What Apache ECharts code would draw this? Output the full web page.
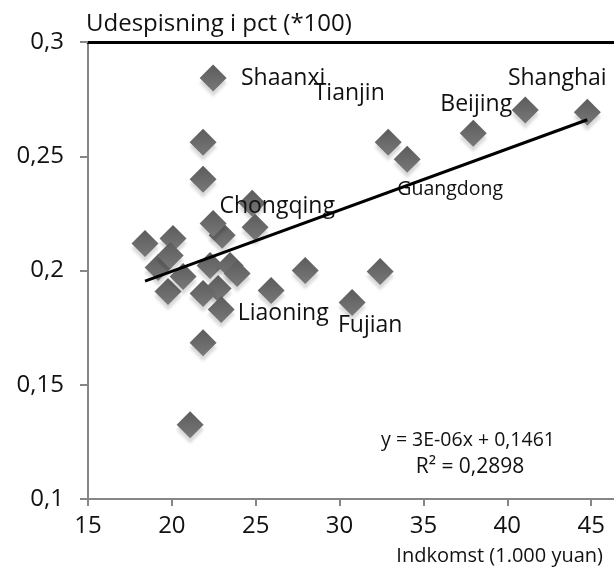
<!DOCTYPE html>
<html>
<head>
<meta charset="utf-8">
<script src="https://cdn.jsdelivr.net/npm/echarts@6/dist/echarts.min.js"></script>
<style>
  html, body { margin: 0; padding: 0; background: #fff; }
  #chart { width: 614px; height: 572px; }
</style>
</head>
<body>
<div id="chart"></div>
<script>
// Income per province (1.000 yuan) and share of food spent eating out
const income = [22.46, 21.86, 21.86, 24.79, 24.96, 23.00, 18.40, 20.07, 19.18, 19.77,
                22.28, 23.47, 22.76, 21.86, 22.94, 20.67, 23.89, 27.95, 25.92, 32.42,
                30.75, 21.86, 21.09, 32.90, 34.03, 37.97, 41.07, 44.77, 22.46, 19.90];
const share  = [0.2842, 0.2561, 0.2399, 0.2294, 0.2189, 0.2154, 0.2118, 0.2140, 0.2013, 0.1908,
                0.2022, 0.2022, 0.1921, 0.1899, 0.1829, 0.1974, 0.1987, 0.2000, 0.1912, 0.1996,
                0.1860, 0.1684, 0.1325, 0.2561, 0.2487, 0.2601, 0.2702, 0.2693, 0.2206, 0.2066];
const province = ['Shaanxi', '', '', 'Chongqing', '', '', '', '', '', '',
                  '', '', '', '', 'Liaoning', '', '', '', '', '',
                  'Fujian', '', '', 'Tianjin', 'Guangdong', 'Beijing', '', 'Shanghai', '', ''];
const xTicks = [15, 20, 25, 30, 35, 40, 45];
const yTicks = [0.1, 0.15, 0.2, 0.25, 0.3];
const trendText = ['y = 3E-06x + 0,1461', 'R² = 0,2898'];

// label placement around each named marker (offset from the marker centre)
const labelOffset = {
  Shaanxi: [70, 0], Chongqing: [25, 3], Liaoning: [62, 4], Fujian: [18, 23],
  Tianjin: [-39, -49], Guangdong: [43, 30], Beijing: [3, -29], Shanghai: [-30, -34]
};
const FONT = '"Open Sans", "Noto Sans", sans-serif';
const SYM = 27;

// least-squares trend line over the plotted points
const n = income.length;
const mx = income.reduce((a, b) => a + b, 0) / n;
const my = share.reduce((a, b) => a + b, 0) / n;
let sxy = 0, sxx = 0;
for (let i = 0; i < n; i++) { sxy += (income[i] - mx) * (share[i] - my); sxx += (income[i] - mx) ** 2; }
const slope = sxy / sxx, icept = my - slope * mx;
const xLo = Math.min(...income), xHi = Math.max(...income);

const points = income.map((x, i) => {
  const item = { value: [x, share[i]] };
  const name = province[i];
  if (name) {
    item.label = {
      show: true, formatter: name,
      position: [SYM / 2, SYM / 2], align: 'center', verticalAlign: 'middle',
      offset: labelOffset[name],
      color: '#111', textBorderWidth: 0, fontFamily: FONT,
      fontSize: name === 'Guangdong' ? 19.5 : 23
    };
  }
  return item;
});

const comma = v => String(+v.toFixed(2)).replace('.', ',');

const chart = echarts.init(document.getElementById('chart'), null, { renderer: 'canvas' });
chart.setOption({
  animation: false,
  backgroundColor: '#fff',
  // plot area runs past the right edge of the canvas
  grid: { left: 88, top: 42, bottom: 73, width: 587, containLabel: false, outerBoundsMode: 'none' },
  xAxis: [{
    type: 'value', min: 15, max: 50, interval: 5,
    axisLine: { lineStyle: { color: '#868686', width: 2 } },
    axisTick: { show: true, length: 7, lineStyle: { color: '#868686', width: 2 } },
    axisLabel: {
      margin: 15, color: '#111', fontFamily: FONT, fontSize: 24,
      formatter: v => xTicks.includes(v) ? String(v) : ''
    },
    splitLine: { show: false }
  }, {
    type: 'value', position: 'top', min: 15, max: 50,
    axisLine: { show: true, lineStyle: { color: '#000', width: 3 } },
    axisTick: { show: false }, axisLabel: { show: false }, splitLine: { show: false }
  }],
  yAxis: {
    type: 'value', min: 0.1, max: 0.3, interval: 0.05,
    name: 'Udespisning i pct (*100)', nameLocation: 'end', nameGap: 6,
    nameTextStyle: { align: 'left', verticalAlign: 'bottom', color: '#111', fontFamily: FONT, fontSize: 24, padding: [0, 0, 0, -2] },
    axisLine: { show: true, lineStyle: { color: '#868686', width: 2 } },
    axisTick: { show: true, length: 8, lineStyle: { color: '#868686', width: 2 } },
    axisLabel: {
      margin: 24, color: '#111', fontFamily: FONT, fontSize: 24,
      formatter: v => yTicks.some(t => Math.abs(t - v) < 1e-9) ? comma(v) : ''
    },
    splitLine: { show: false }
  },
  series: [{
    type: 'scatter',
    symbol: 'diamond', symbolSize: SYM,
    itemStyle: {
      opacity: 1,
      color: new echarts.graphic.LinearGradient(0, 0, 0, 1, [
        { offset: 0, color: '#5c5c5c' }, { offset: 1, color: '#787878' }
      ]),
      shadowColor: 'rgba(0,0,0,0.15)', shadowBlur: 3, shadowOffsetY: 5
    },
    data: points,
    z: 2
  }, {
    type: 'line',
    data: [[xLo, icept + slope * xLo], [xHi, icept + slope * xHi]],
    symbol: 'none',
    lineStyle: { color: '#000', width: 3 },
    z: 3
  }],
  graphic: [{
    type: 'text', x: 468, y: 440,
    style: { text: trendText[0], align: 'center', verticalAlign: 'middle', fill: '#111', font: '19.5px ' + FONT }
  }, {
    type: 'text', x: 470, y: 467,
    style: { text: trendText[1], align: 'center', verticalAlign: 'middle', fill: '#111', font: '21px ' + FONT }
  }, {
    type: 'text', x: 603, y: 556,
    style: { text: 'Indkomst (1.000 yuan)', align: 'right', verticalAlign: 'middle', fill: '#111', font: '20px ' + FONT }
  }]
});
</script>
</body>
</html>
